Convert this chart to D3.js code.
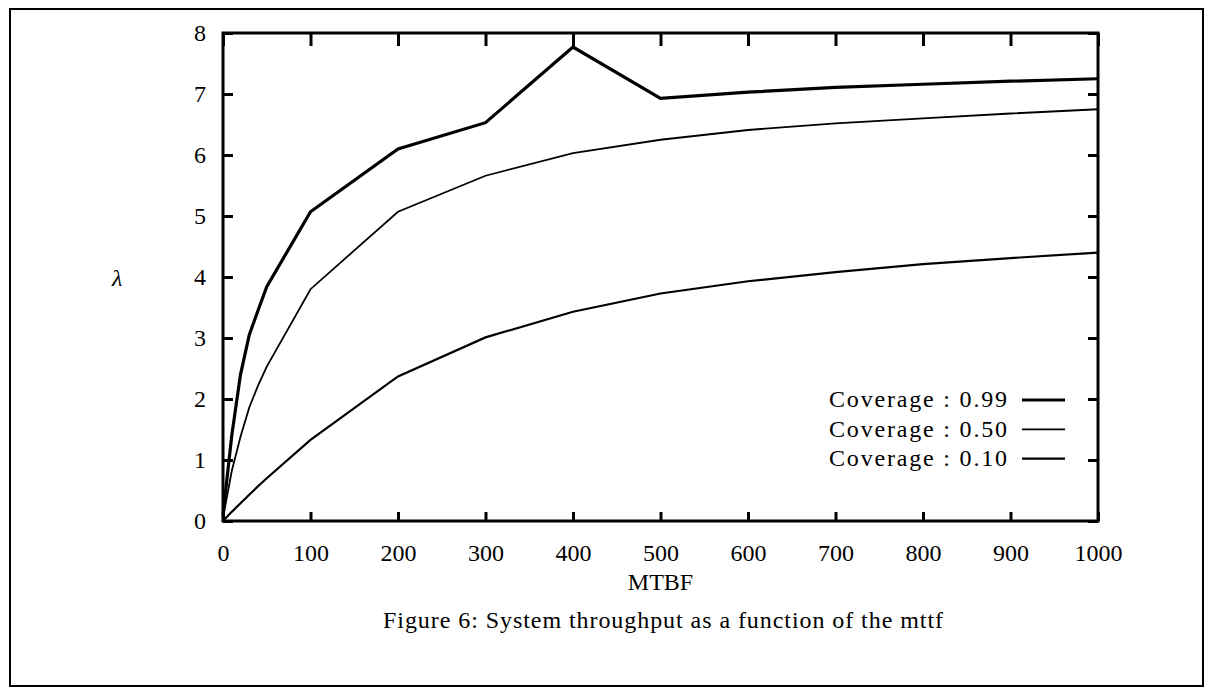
<!DOCTYPE html>
<html lang="en">
<head>
    <meta charset="UTF-8">
    <title>System throughput as a function of the mttf</title>
    <style>
        body { margin: 0; background: #fff; }
        svg text { font-family: "Liberation Serif", "DejaVu Serif", serif; fill: #000; }
        .tick text { font-size: 24px; }
        .legend text, .label, .caption { font-size: 24px; }
    </style>
    <script src="https://d3js.org/d3.v7.min.js"></script>
</head>
<body>
    <div id="chart"></div>
    <script>
        // MTBF values and lambda readings per coverage level
        const mtbf = [0, 10, 20, 30, 40, 50, 100, 200, 300, 400, 500, 600, 700, 800, 900, 1000];
        const cov99 = [0.1, 1.4, 2.4, 3.05, 3.45, 3.84, 5.07, 6.1, 6.53, 7.77, 6.93, 7.03, 7.11, 7.16, 7.21, 7.25];
        const cov50 = [0.05, 0.82, 1.38, 1.86, 2.22, 2.53, 3.8, 5.07, 5.66, 6.03, 6.25, 6.41, 6.52, 6.6, 6.68, 6.75];
        const cov10 = [0, 0.15, 0.29, 0.43, 0.57, 0.7, 1.33, 2.37, 3.01, 3.43, 3.73, 3.93, 4.08, 4.21, 4.31, 4.4];
        const seriesNames = ["Coverage : 0.99", "Coverage : 0.50", "Coverage : 0.10"];
        const xTicks = [0, 100, 200, 300, 400, 500, 600, 700, 800, 900, 1000];
        const yTicks = [0, 1, 2, 3, 4, 5, 6, 7, 8];

        const width = 1209, height = 691;
        const margin = {left: 223, right: 111, top: 33, bottom: 170};
        const serif = '"Liberation Serif", "DejaVu Serif", serif';

        const svg = d3.select("#chart").append("svg")
            .attr("width", width)
            .attr("height", height)
            .attr("font-family", serif);

        // outer figure frame
        svg.append("rect")
            .attr("x", 10).attr("y", 9)
            .attr("width", 1193).attr("height", 677)
            .attr("fill", "none")
            .attr("stroke", "#000")
            .attr("stroke-width", 2);

        const x = d3.scaleLinear().domain([0, 1000]).range([margin.left, width - margin.right]);
        const y = d3.scaleLinear().domain([0, 8]).range([height - margin.bottom, margin.top]);

        const series = [
            {name: seriesNames[0], values: cov99, width: 3.2},
            {name: seriesNames[1], values: cov50, width: 1.8},
            {name: seriesNames[2], values: cov10, width: 2.2}
        ];

        const line = d3.line()
            .x(d => x(d[0]))
            .y(d => y(d[1]));

        series.forEach(s => {
            svg.append("path")
                .datum(mtbf.map((m, i) => [m, s.values[i]]))
                .attr("fill", "none")
                .attr("stroke", "#000")
                .attr("stroke-width", s.width)
                .attr("stroke-linejoin", "miter")
                .attr("d", line);
        });

        // axes, ticks pointing inward on every side
        const axBottom = svg.append("g")
            .attr("transform", `translate(0,${y(0)})`)
            .call(d3.axisBottom(x).tickValues(xTicks).tickFormat(d3.format("d")).tickSize(-9).tickPadding(23));
        const axTop = svg.append("g")
            .attr("transform", `translate(0,${y(8)})`)
            .call(d3.axisTop(x).tickValues(xTicks).tickSize(-13).tickFormat(""));
        const axLeft = svg.append("g")
            .attr("transform", `translate(${x(0)},0)`)
            .call(d3.axisLeft(y).tickValues(yTicks).tickSize(-10).tickPadding(17));
        const axRight = svg.append("g")
            .attr("transform", `translate(${x(1000)},0)`)
            .call(d3.axisRight(y).tickValues(yTicks).tickSize(-10).tickFormat(""));

        [axBottom, axTop, axLeft, axRight].forEach(g => {
            g.select(".domain").remove();
            g.selectAll("line").attr("stroke", "#000").attr("stroke-width", 3);
            g.attr("font-family", serif).attr("font-size", 24);
        });

        svg.append("rect")
            .attr("x", x(0)).attr("y", y(8))
            .attr("width", x(1000) - x(0))
            .attr("height", y(0) - y(8))
            .attr("fill", "none")
            .attr("stroke", "#000")
            .attr("stroke-width", 3);

        // axis labels
        svg.append("text")
            .attr("class", "label")
            .attr("x", (x(0) + x(1000)) / 2)
            .attr("y", 590)
            .attr("text-anchor", "middle")
            .text("MTBF");

        svg.append("text")
            .attr("class", "label")
            .attr("x", 112)
            .attr("y", 286)
            .attr("font-style", "italic")
            .text("λ");

        // legend
        const legend = svg.append("g").attr("class", "legend");
        series.forEach((s, i) => {
            const ly = 400 + i * 29.3;
            legend.append("text")
                .attr("x", 1007)
                .attr("y", ly)
                .attr("dy", "0.3em")
                .attr("text-anchor", "end")
                .attr("textLength", 178)
                .attr("lengthAdjust", "spacing")
                .text(s.name);
            legend.append("line")
                .attr("x1", 1022).attr("x2", 1065)
                .attr("y1", ly).attr("y2", ly)
                .attr("stroke", "#000")
                .attr("stroke-width", s.width);
        });

        // caption
        svg.append("text")
            .attr("class", "caption")
            .attr("x", 663)
            .attr("y", 628)
            .attr("text-anchor", "middle")
            .attr("textLength", 560)
            .attr("lengthAdjust", "spacing")
            .text("Figure 6: System throughput as a function of the mttf");
    </script>
</body>
</html>
